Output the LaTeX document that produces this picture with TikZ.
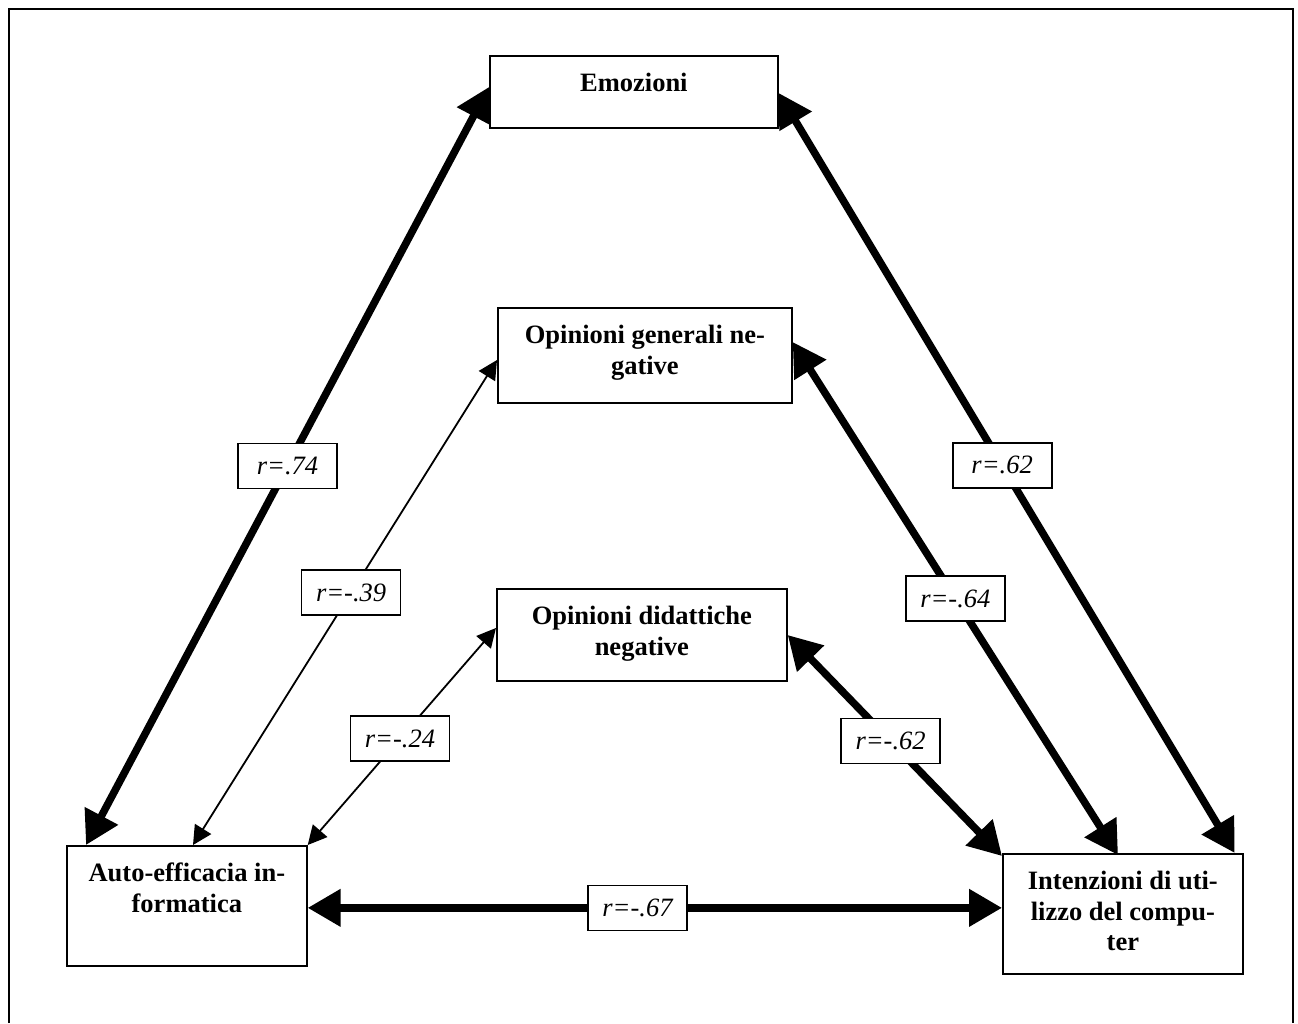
\documentclass[tikz,border=0pt]{standalone}
\usepackage{fontspec}
\setmainfont{Liberation Serif}
\usetikzlibrary{arrows.meta, positioning, calc}
\newcommand{\boxtext}[3]{\parbox[c][#2][t]{#1}{\centering\vspace*{14.5pt}\strut #3}}
\tikzset{
  every picture/.style={x=1pt, y=-1pt},
  box/.style={draw, line width=1.7pt, inner sep=0pt, anchor=north west, font=\bfseries\fontsize{26.5}{30.5}\selectfont},
  lab/.style={draw, fill=white, line width=1.7pt, minimum width=99pt, minimum height=45pt, inner sep=0pt, font=\itshape\fontsize{26.5}{30.5}\selectfont},
  bigarrow/.style={{Triangle[length=33pt, width=36pt]}-{Triangle[length=33pt, width=36pt]}, line width=7.5pt},
  thinarrow/.style={{Triangle[length=19pt, width=19pt]}-{Triangle[length=19pt, width=19pt]}, line width=1.8pt},
}
\begin{document}
\begin{tikzpicture}
  \useasboundingbox (0,0) rectangle (1298,1023);
  % outer frame
  \draw[line width=2pt] (9,1023) -- (9,9) -- (1293,9) -- (1293,1023);
  % the five boxes
  \node[box] (emo) at (489,55) {\boxtext{288pt}{72pt}{Emozioni}};
  \node[box] (gen) at (497,307) {\boxtext{294pt}{95pt}{Opinioni generali ne-\\gative}};
  \node[box] (did) at (496,588) {\boxtext{290pt}{92pt}{Opinioni didattiche\\negative}};
  \node[box] (auto) at (66,845) {\boxtext{240pt}{120pt}{Auto-efficacia in-\\formatica}};
  \node[box] (int) at (1002,853) {\boxtext{240pt}{120pt}{Intenzioni di uti-\\lizzo del compu-\\ter}};
  % correlations
  \draw[bigarrow] ([yshift=-32pt]emo.north west) -- ([xshift=20pt]auto.north west) node[lab, pos=0.5] {r=.74};
  \draw[bigarrow] ([yshift=-38pt]emo.north east) -- ([xshift=-9pt]int.north east) node[lab, pos=0.49] {r=.62};
  \draw[thinarrow] ([yshift=-53pt]gen.north west) -- ([xshift=127pt]auto.north west) node[lab, pos=0.48] {r=-.39};
  \draw[bigarrow] ([yshift=-35pt]gen.north east) -- ([xshift=116pt, yshift=-2pt]int.north west) node[lab, pos=0.5] {r=-.64};
  \draw[thinarrow] ([yshift=-40pt]did.north west) -- (auto.north east) node[lab, pos=0.51] {r=-.24};
  \draw[bigarrow] ([yshift=-47pt]did.north east) -- ([yshift=-3pt]int.north west) node[lab, pos=0.48] {r=-.62};
  \draw[bigarrow] ([yshift=-2pt]auto.east) -- ([yshift=-2pt]auto.east -| int.west) node[lab, pos=0.475] {r=-.67};
\end{tikzpicture}
\end{document}
